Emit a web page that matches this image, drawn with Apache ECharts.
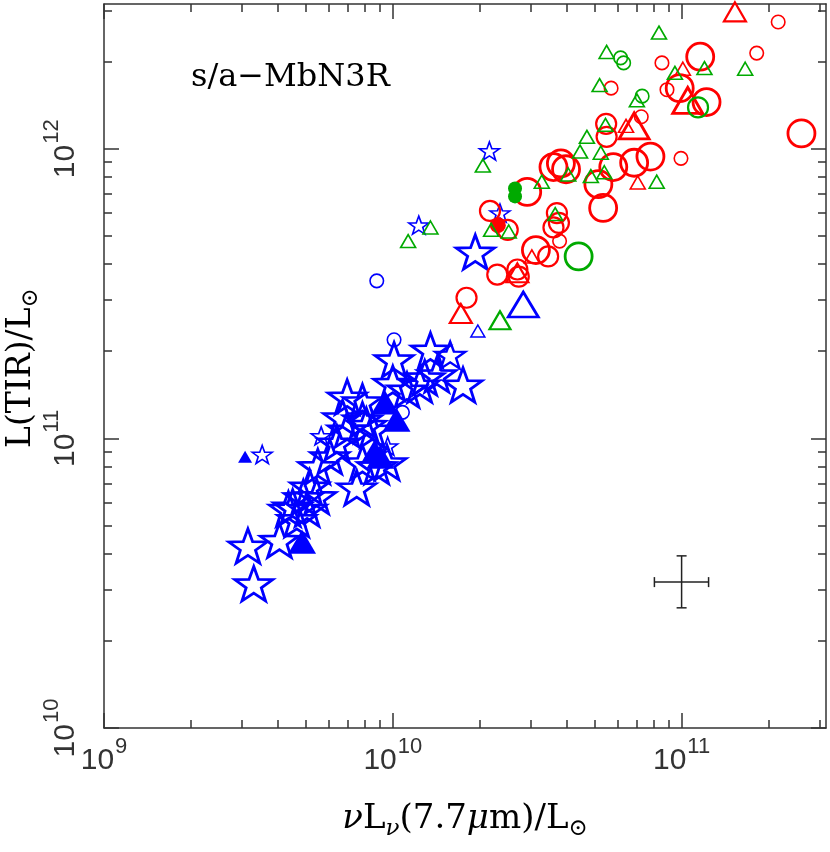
<!DOCTYPE html>
<html>
<head>
<meta charset="utf-8">
<script src="https://cdn.jsdelivr.net/npm/echarts@6/dist/echarts.min.js"></script>
<style>
  html, body { margin: 0; padding: 0; background: #fff; }
  #chart { width: 830px; height: 852px; }
</style>
</head>
<body>
<div id="chart"></div>
<script>
// axis ticks (log scale)
const xMajor = [1e9, 1e10, 1e11];
const xMinor = [2e9, 3e9, 4e9, 5e9, 6e9, 7e9, 8e9, 9e9, 2e10, 3e10, 4e10, 5e10, 6e10, 7e10, 8e10, 9e10, 2e11, 3e11];
const yMajor = [1e10, 1e11, 1e12];
const yMinor = [2e10, 3e10, 4e10, 5e10, 6e10, 7e10, 8e10, 9e10, 2e11, 3e11, 4e11, 5e11, 6e11, 7e11, 8e11, 9e11, 2e12, 3e12];

// blue
const blueStarBig = [
  [3.15e9, 4.25e10], [3.3e9, 3.15e10], [4.05e9, 4.45e10], [4.5e9, 5.8e10], [4.9e9, 6.25e10],
  [5.05e9, 5.7e10], [4.65e9, 5.25e10], [5.15e9, 6.8e10], [5.45e9, 6.3e10], [5.5e9, 8.0e10],
  [6.05e9, 8.65e10], [7.5e9, 6.75e10], [6.95e9, 1.07e11], [8.1e9, 1.11e11], [7.85e9, 8.25e10],
  [8.8e9, 8.0e10], [9.55e9, 8.25e10], [6.95e9, 1.39e11], [7.85e9, 1.34e11], [6.7e9, 1.18e11],
  [7.85e9, 1.16e11], [8.5e9, 1.07e11], [1.01e10, 1.87e11], [1.0e10, 1.55e11], [1.12e10, 1.47e11],
  [1.24e10, 1.53e11], [1.29e10, 1.62e11], [1.42e10, 1.66e11], [1.35e10, 2.02e11], [1.75e10, 1.53e11],
  [1.93e10, 4.4e11], [6.4e9, 9.65e10], [4.35e9, 5.7e10]
];
const blueStarMid = [[1.58e10, 1.94e11]];
const blueStarSmall = [
  [2.16e10, 9.83e11], [1.23e10, 5.45e11], [2.35e10, 6.0e11], [3.53e9, 8.8e10], [5.65e9, 1.02e11], [9.6e9, 9.4e10]
];
const blueTriFillBig = [[4.85e9, 4.4e10], [1.03e10, 1.16e11], [8.65e9, 9.0e10], [9.05e9, 8.65e10], [9.4e9, 1.33e11]];
const blueTriFillSmall = [[3.08e9, 8.65e10]];
const blueTriBig = [[2.83e10, 2.9e11]];
const blueTriSmall = [[1.97e10, 2.35e11]];
const blueCircSmall = [[8.8e9, 3.5e11], [1.01e10, 2.19e11], [1.08e10, 1.23e11]];

// red
const redCircBig = [
  [1.16e11, 2.08e12], [9.85e10, 1.62e12], [1.22e11, 1.45e12], [2.6e11, 1.13e12], [3.6e10, 8.65e11],
  [3.82e10, 8.9e11], [3.98e10, 8.5e11], [2.92e10, 7.1e11], [5.15e10, 7.55e11], [5.35e10, 6.25e11],
  [5.8e10, 8.65e11], [6.85e10, 8.95e11], [7.8e10, 9.4e11], [3.13e10, 4.47e11]
];
const redCircMid = [
  [2.17e10, 6.1e11], [2.5e10, 5.25e11], [3.7e10, 6.0e11], [3.76e10, 5.55e11], [3.6e10, 5.35e11],
  [3.45e10, 4.25e11], [2.3e10, 3.68e11], [2.7e10, 3.83e11], [2.73e10, 3.62e11], [1.8e10, 3.06e11],
  [5.48e10, 1.22e12], [5.5e10, 1.1e12]
];
const redCircSmall = [
  [2.16e11, 2.74e12], [1.82e11, 2.14e12], [8.55e10, 1.98e12], [5.7e10, 1.62e12], [8.9e10, 1.6e12],
  [7.25e10, 1.29e12], [9.95e10, 9.27e11], [3.78e10, 4.8e11]
];
const redTriBig = [[1.05e11, 1.47e12], [6.85e10, 1.2e12]];
const redTriMid = [[1.53e11, 2.97e12], [1.72e10, 2.7e11], [2.7e10, 3.73e11]];
const redTriSmall = [[1.01e11, 1.89e12], [6.42e10, 1.2e12], [7.05e10, 7.65e11], [3.03e10, 4.25e11]];
const redDot = [[2.31e10, 5.45e11]];

// green
const greenTriSmall = [
  [8.35e10, 2.52e12], [5.5e10, 2.16e12], [1.2e11, 1.9e12], [9.48e10, 1.83e12], [1.66e11, 1.89e12],
  [5.2e10, 1.66e12], [7.0e10, 1.47e12], [5.45e10, 1.21e12], [4.7e10, 1.1e12], [4.45e10, 9.78e11],
  [5.25e10, 9.7e11], [4.05e10, 8.15e11], [3.28e10, 7.7e11], [4.85e10, 8.05e11], [5.4e10, 8.3e11],
  [8.2e10, 7.7e11], [2.05e10, 8.75e11], [1.35e10, 5.35e11], [1.13e10, 4.8e11], [2.19e10, 5.25e11],
  [2.52e10, 5.18e11], [3.65e10, 5.95e11]
];
const greenTriMid = [[2.35e10, 2.56e11]];
const greenCircSmall = [[6.15e10, 2.06e12], [6.3e10, 1.98e12], [7.3e10, 1.52e12]];
const greenCircMid = [[1.14e11, 1.39e12]];
const greenCircBig = [[4.4e10, 4.25e11]];
const greenDot = [[2.65e10, 7.3e11], [2.65e10, 6.85e11]];

// typical error: [x, y, xlo, xhi, ylo, yhi]
const errBar = [[1e11, 3.19e10, 8.05e10, 1.24e11, 2.6e10, 3.93e10]];

const BLUE = '#0000ff', RED = '#ff0000', GREEN = '#00aa00';
const starPath = 'path://M0,-100L23.5,-32.4L95.1,-30.9L38,12.4L58.8,80.9L0,40L-58.8,80.9L-38,12.4L-95.1,-30.9L-23.5,-32.4Z';

function sc(data, symbol, size, color, filled, bw) {
  return {
    type: 'scatter',
    data: data,
    symbol: symbol,
    symbolSize: size,
    symbolKeepAspect: true,
    itemStyle: {
      color: filled ? color : 'rgba(255,255,255,0)',
      borderColor: color,
      borderWidth: filled ? 0 : bw,
      opacity: 1
    },
    emphasis: { disabled: true },
    silent: true
  };
}

const tickFont = 'Liberation Sans';
const labelRich = {
  b: { fontSize: 30, fontFamily: tickFont, color: '#333', padding: [14, 0, 0, 0] },
  s: { fontSize: 22, fontFamily: tickFont, color: '#333', padding: [0, 0, 14, 1] }
};
function expLabel(v) {
  const e = Math.round(Math.log10(v));
  return '{b|10}{s|' + e + '}';
}

const titleRich = {
  r: { fontSize: 34, fontFamily: 'DejaVu Serif', color: '#000' },
  i: { fontSize: 34, fontFamily: 'DejaVu Serif', fontStyle: 'italic', color: '#000' },
  sub: { fontSize: 23, fontFamily: 'DejaVu Serif', color: '#000', padding: [20, 0, 0, 0] },
  isub: { fontSize: 23, fontFamily: 'DejaVu Serif', fontStyle: 'italic', color: '#000', padding: [20, 0, 0, 0] }
};
const yTitleRich = {
  r: { fontSize: 33, fontFamily: 'DejaVu Serif', color: '#000' },
  sub: { fontSize: 23, fontFamily: 'DejaVu Serif', color: '#000', padding: [20, 0, 0, 0] }
};

function logAxis(pos, min, max, major, minor, isMajor, showLabel, extra) {
  const ax = {
    type: 'log',
    logBase: 10,
    position: pos,
    min: min,
    max: max,
    splitLine: { show: false },
    axisLine: { show: isMajor, onZero: false, lineStyle: { color: '#333', width: 1.5 } },
    axisTick: {
      show: true,
      inside: true,
      length: isMajor ? 15 : 8,
      customValues: isMajor ? major : minor,
      lineStyle: { color: '#333', width: 1.5 }
    },
    axisLabel: { show: false }
  };
  if (showLabel) {
    ax.axisLabel = {
      show: true,
      customValues: major,
      formatter: expLabel,
      rich: labelRich,
      margin: (pos === 'left') ? 23 : 4,
      rotate: (pos === 'left') ? 90 : 0
    };
  }
  return Object.assign(ax, extra || {});
}

const chart = echarts.init(document.getElementById('chart'));
chart.setOption({
  animation: false,
  backgroundColor: '#fff',
  grid: { left: 104, top: 4, right: 4, bottom: 124, containLabel: false, outerBoundsMode: 'none' },
  xAxis: [
    logAxis('bottom', 1e9, 3.1623e11, xMajor, xMinor, true, true, {
      name: '{i|ν}{r|L}{isub|ν}{r|(7.7}{i|μ}{r|m)/L}{sub|⊙}',
      nameLocation: 'middle',
      nameGap: 70,
      nameTextStyle: { rich: titleRich }
    }),
    logAxis('bottom', 1e9, 3.1623e11, xMajor, xMinor, false, false),
    logAxis('top', 1e9, 3.1623e11, xMajor, xMinor, true, false),
    logAxis('top', 1e9, 3.1623e11, xMajor, xMinor, false, false)
  ],
  yAxis: [
    logAxis('left', 1e10, 3.1623e12, yMajor, yMinor, true, true),
    logAxis('left', 1e10, 3.1623e12, yMajor, yMinor, false, false),
    logAxis('right', 1e10, 3.1623e12, yMajor, yMinor, true, false),
    logAxis('right', 1e10, 3.1623e12, yMajor, yMinor, false, false)
  ],
  graphic: [{
    type: 'text',
    left: 191,
    top: 62,
    style: { text: 's/a−MbN3R', font: '32px "DejaVu Serif"', fill: '#000' }
  }, {
    type: 'text',
    x: 21,
    y: 448,
    rotation: Math.PI / 2,
    style: {
      text: '{r|L(TIR)/L}{sub|⊙}',
      rich: yTitleRich,
      align: 'left',
      verticalAlign: 'middle'
    }
  }],
  series: [
    sc(blueStarBig, starPath, [38, 36], BLUE, false, 2.8),
    sc(blueStarMid, starPath, [30, 28], BLUE, false, 2.4),
    sc(blueStarSmall, starPath, [20, 19], BLUE, false, 1.6),
    sc(blueTriFillBig, 'triangle', [28, 24], BLUE, true, 0),
    sc(blueTriFillSmall, 'triangle', [14, 12], BLUE, true, 0),
    sc(blueTriBig, 'triangle', [30, 25], BLUE, false, 2.8),
    sc(blueTriSmall, 'triangle', [14, 12], BLUE, false, 1.5),
    sc(blueCircSmall, 'circle', 13.5, BLUE, false, 1.6),
    sc(redCircBig, 'circle', 27, RED, false, 2.8),
    sc(redCircMid, 'circle', 20, RED, false, 2.2),
    sc(redCircSmall, 'circle', 13.5, RED, false, 1.6),
    sc(redTriBig, 'triangle', [30, 26], RED, false, 2.8),
    sc(redTriMid, 'triangle', [22, 19], RED, false, 2.2),
    sc(redTriSmall, 'triangle', [15, 13], RED, false, 1.6),
    sc(redDot, 'circle', 16, RED, true, 0),
    sc(greenTriSmall, 'triangle', [15, 13], GREEN, false, 1.6),
    sc(greenTriMid, 'triangle', [21, 18], GREEN, false, 2.2),
    sc(greenCircSmall, 'circle', 13.5, GREEN, false, 1.6),
    sc(greenCircMid, 'circle', 20, GREEN, false, 2.2),
    sc(greenCircBig, 'circle', 27, GREEN, false, 2.8),
    sc(greenDot, 'circle', 14, GREEN, true, 0),
    {
      type: 'custom',
      data: errBar,
      silent: true,
      renderItem: function (params, api) {
        const c = api.coord([api.value(0), api.value(1)]);
        const l = api.coord([api.value(2), api.value(1)]);
        const r = api.coord([api.value(3), api.value(1)]);
        const b = api.coord([api.value(0), api.value(4)]);
        const t = api.coord([api.value(0), api.value(5)]);
        const cap = 5;
        const st = { stroke: '#222', lineWidth: 1.5 };
        return {
          type: 'group',
          children: [
            { type: 'line', shape: { x1: l[0], y1: c[1], x2: r[0], y2: c[1] }, style: st },
            { type: 'line', shape: { x1: c[0], y1: b[1], x2: c[0], y2: t[1] }, style: st },
            { type: 'line', shape: { x1: l[0], y1: c[1] - cap, x2: l[0], y2: c[1] + cap }, style: st },
            { type: 'line', shape: { x1: r[0], y1: c[1] - cap, x2: r[0], y2: c[1] + cap }, style: st },
            { type: 'line', shape: { x1: c[0] - cap, y1: b[1], x2: c[0] + cap, y2: b[1] }, style: st },
            { type: 'line', shape: { x1: c[0] - cap, y1: t[1], x2: c[0] + cap, y2: t[1] }, style: st }
          ]
        };
      }
    }
  ]
});
</script>
</body>
</html>
